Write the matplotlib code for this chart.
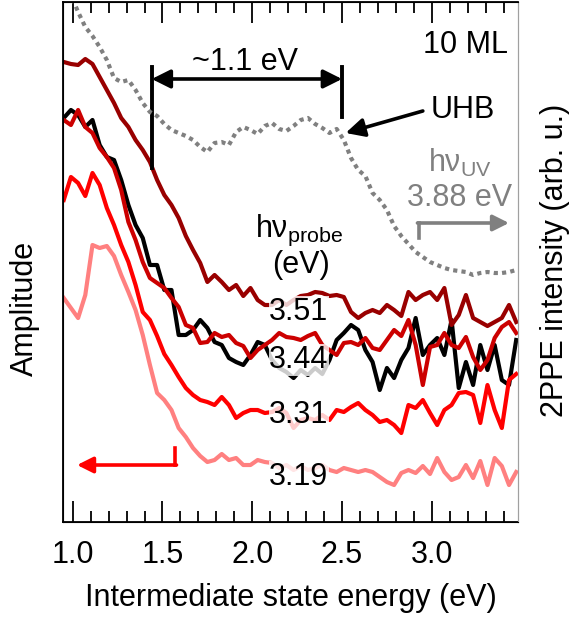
import matplotlib.pyplot as plt
from matplotlib.ticker import MultipleLocator, FormatStrFormatter

plt.rcParams['font.family'] = ['Liberation Sans', 'DejaVu Sans']
plt.rcParams['mathtext.fontset'] = 'custom'
plt.rcParams['mathtext.rm'] = 'Liberation Sans'
plt.rcParams['mathtext.it'] = 'Liberation Sans:italic'

# intermediate state energy grid (eV)
energy = [0.95, 0.99, 1.03, 1.07, 1.11, 1.15, 1.19, 1.23, 1.27, 1.31,
          1.35, 1.39, 1.43, 1.47, 1.51, 1.55, 1.59, 1.63, 1.67, 1.71,
          1.75, 1.79, 1.83, 1.87, 1.91, 1.95, 1.99, 2.03, 2.07, 2.11,
          2.15, 2.19, 2.23, 2.27, 2.31, 2.35, 2.39, 2.43, 2.47, 2.51,
          2.55, 2.59, 2.63, 2.67, 2.71, 2.75, 2.79, 2.83, 2.87, 2.91,
          2.95, 2.99, 3.03, 3.07, 3.11, 3.15, 3.19, 3.23, 3.27, 3.31,
          3.35, 3.39, 3.43, 3.47]

# amplitude spectra (arb. u., offset for display)
amp_351 = [4.60, 4.58, 4.57, 4.63, 4.58, 4.45, 4.32, 4.19, 4.04, 3.95,
           3.82, 3.72, 3.60, 3.42, 3.27, 3.17, 3.04, 2.86, 2.72, 2.59,
           2.40, 2.47, 2.40, 2.32, 2.37, 2.26, 2.34, 2.22, 2.17, 2.17,
           2.22, 2.17, 2.22, 2.26, 2.27, 2.30, 2.29, 2.26, 2.27, 2.25,
           2.10, 2.04, 2.09, 2.12, 2.09, 2.17, 2.12, 2.06, 2.30, 2.22,
           2.27, 2.30, 2.22, 2.34, 1.97, 2.07, 2.27, 2.04, 2.00, 1.96,
           2.00, 2.04, 2.17, 2.00]
amp_ref = [4.04, 4.12, 4.07, 3.95, 4.02, 3.77, 3.65, 3.62, 3.42, 3.17,
           2.97, 2.84, 2.57, 2.57, 2.32, 2.32, 1.87, 1.87, 1.92, 2.02,
           1.94, 1.80, 1.77, 1.64, 1.60, 1.57, 1.67, 1.80, 1.77, 1.62,
           1.54, 1.50, 1.44, 1.52, 1.47, 1.54, 1.48, 1.62, 1.82, 1.89,
           1.97, 1.92, 1.72, 1.60, 1.32, 1.54, 1.44, 1.62, 1.74, 2.04,
           1.67, 1.77, 1.84, 1.67, 2.02, 1.34, 1.60, 1.37, 1.77, 1.52,
           1.77, 1.42, 1.37, 1.82]
amp_344 = [4.02, 3.97, 4.12, 3.95, 3.89, 3.74, 3.65, 3.54, 3.32, 3.00,
           2.82, 2.60, 2.44, 2.39, 2.34, 2.24, 2.15, 1.97, 1.94, 1.79,
           1.80, 1.89, 1.85, 1.87, 1.79, 1.76, 1.64, 1.72, 1.77, 1.82,
           1.89, 1.85, 1.84, 1.82, 1.86, 1.89, 1.77, 1.72, 1.67, 1.79,
           1.80, 1.77, 1.84, 1.74, 1.72, 1.82, 1.92, 1.86, 2.02, 1.77,
           1.37, 1.75, 1.77, 1.89, 1.77, 1.74, 1.85, 1.65, 1.52, 1.62,
           1.84, 1.95, 2.00, 1.89]
amp_331 = [3.22, 3.45, 3.39, 3.26, 3.49, 3.37, 3.14, 2.97, 2.77, 2.60,
           2.37, 2.10, 2.02, 1.86, 1.68, 1.57, 1.45, 1.34, 1.27, 1.22,
           1.20, 1.17, 1.25, 1.17, 1.04, 1.09, 1.12, 1.12, 1.09, 1.10,
           1.14, 1.09, 0.94, 1.02, 1.04, 1.02, 1.07, 1.02, 1.12, 1.10,
           1.15, 1.19, 1.12, 1.07, 1.00, 1.02, 0.97, 0.89, 1.17, 1.14,
           1.22, 1.09, 0.97, 1.12, 1.17, 1.29, 1.30, 1.27, 0.99, 1.37,
           1.12, 0.94, 1.42, 1.48]
amp_319 = [2.24, 2.14, 2.04, 2.27, 2.77, 2.74, 2.76, 2.66, 2.47, 2.30,
           2.12, 1.87, 1.57, 1.29, 1.22, 1.12, 0.94, 0.85, 0.74, 0.66,
           0.60, 0.62, 0.68, 0.62, 0.64, 0.57, 0.57, 0.62, 0.60, 0.59,
           0.54, 0.57, 0.52, 0.56, 0.52, 0.54, 0.57, 0.52, 0.50, 0.54,
           0.52, 0.50, 0.52, 0.50, 0.45, 0.40, 0.37, 0.49, 0.52, 0.49,
           0.56, 0.48, 0.64, 0.50, 0.42, 0.45, 0.57, 0.44, 0.61, 0.37,
           0.64, 0.56, 0.37, 0.50]
# 2PPE spectrum with hv_UV = 3.88 eV (right axis)
tppe_uv = [5.42, 5.27, 5.10, 4.95, 4.86, 4.75, 4.62, 4.44, 4.40, 4.42,
           4.32, 4.19, 4.10, 4.06, 3.98, 3.92, 3.89, 3.86, 3.82, 3.75,
           3.70, 3.79, 3.80, 3.77, 3.90, 3.95, 3.92, 3.88, 3.96, 3.99,
           3.93, 3.91, 3.96, 4.02, 4.04, 3.98, 3.94, 3.89, 3.93, 3.82,
           3.64, 3.52, 3.46, 3.29, 3.22, 3.12, 2.96, 2.86, 2.78, 2.70,
           2.65, 2.60, 2.57, 2.54, 2.52, 2.51, 2.50, 2.47, 2.49, 2.50,
           2.49, 2.49, 2.50, 2.52]

probe_labels = ['3.51', '3.44', '3.31', '3.19']
label_y = [2.10, 1.62, 1.07, 0.45]

FS = 22
fig = plt.figure(figsize=(5.73, 6.21), dpi=100)
ax = fig.add_axes([0.110, 0.1594, 0.794, 0.8374])
ax2 = ax.twinx()

lw = 3.0
ax.plot(energy, amp_ref, color='black', lw=lw)
ax.plot(energy, amp_344, color='#CC0000', lw=lw)
ax.plot(energy, amp_351, color='#990000', lw=lw)
ax.plot(energy, amp_331, color='#FF0000', lw=lw)
ax.plot(energy, amp_319, color='#FF8080', lw=lw)
ax2.plot(energy, tppe_uv, color='#808080', lw=3.0, linestyle=(0, (1.0, 1.0)))

for ax_ in (ax, ax2):
    ax_.set_xlim(0.946, 3.48)
    ax_.set_ylim(0, 5.2)
    ax_.set_yticks([])

ax.xaxis.set_major_locator(MultipleLocator(0.5))
ax.xaxis.set_minor_locator(MultipleLocator(0.1))
ax.xaxis.set_major_formatter(FormatStrFormatter('%.1f'))
ax.tick_params(axis='x', which='major', direction='in', length=15, width=1.3,
               top=True, labelsize=FS, pad=13)
ax.tick_params(axis='x', which='minor', direction='in', length=8, width=1.3, top=True)
for s in ('left', 'bottom', 'top'):
    ax.spines[s].set_linewidth(1.3)
ax.spines['right'].set_color('#a0a0a0')
ax2.spines['right'].set_color('#a0a0a0')

ax.set_xlabel('Intermediate state energy (eV)', fontsize=FS, labelpad=9)
fig.text(0.0436, 0.504, 'Amplitude', rotation=90, ha='center', va='center', fontsize=FS)
fig.text(0.969, 0.581, '2PPE intensity (arb. u.)', rotation=90, ha='center', va='center',
         fontsize=FS)

# annotations
ax.text(3.424, 4.77, '10 ML', ha='right', va='center', fontsize=FS)
ax.text(1.96, 4.60, '~1.1 eV', ha='center', va='center', fontsize=FS)
ax.annotate('', xy=(1.44, 4.43), xytext=(2.50, 4.43),
            arrowprops=dict(arrowstyle='<|-|>', lw=2.6, color='black',
                            mutation_scale=28, shrinkA=0, shrinkB=0))
ax.plot([1.44, 1.44], [3.54, 4.55], color='black', lw=2.8)
ax.plot([2.50, 2.50], [4.05, 4.55], color='black', lw=2.8)
ax.text(3.175, 4.12, 'UHB', ha='center', va='center', fontsize=FS)
ax.annotate('', xy=(2.52, 3.89), xytext=(2.95, 4.11),
            arrowprops=dict(arrowstyle='-|>', lw=2.6, color='black',
                            mutation_scale=28, shrinkA=0, shrinkB=0))

ax.text(3.155, 3.59, r'hν$_{\mathrm{UV}}$', ha='center', va='center', fontsize=FS,
        color='#808080')
ax.text(3.153, 3.24, '3.88 eV', ha='center', va='center', fontsize=FS, color='#808080')
ax.plot([2.927, 2.927], [2.84, 2.99], color='#808080', lw=2.6)
ax.annotate('', xy=(3.43, 2.99), xytext=(2.92, 2.99),
            arrowprops=dict(arrowstyle='-|>', lw=2.6, color='#808080',
                            mutation_scale=24, shrinkA=0, shrinkB=0))

ax.plot([1.571, 1.571], [0.57, 0.74], color='#FF0000', lw=2.6)
ax.annotate('', xy=(1.024, 0.57), xytext=(1.578, 0.57),
            arrowprops=dict(arrowstyle='-|>', lw=2.6, color='#FF0000',
                            mutation_scale=24, shrinkA=0, shrinkB=0))

ax.text(2.26, 2.92, r'hν$_{\mathrm{probe}}$', ha='center', va='center', fontsize=FS)
ax.text(2.27, 2.57, '(eV)', ha='center', va='center', fontsize=FS)
for lab, y in zip(probe_labels, label_y):
    ax.text(2.26, y, lab, ha='center', va='center', fontsize=FS, zorder=5,
            bbox=dict(facecolor='white', alpha=0.8, edgecolor='none', pad=0.5))

fig.savefig('out.png', dpi=100)
